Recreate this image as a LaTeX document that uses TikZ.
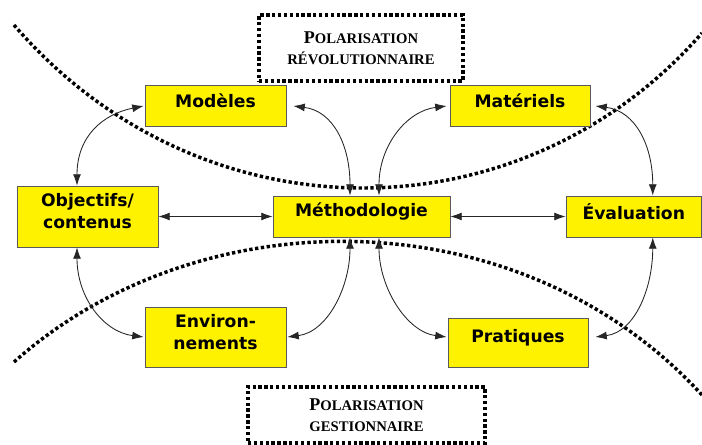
\documentclass[tikz,border=0pt]{standalone}
\usepackage{fontspec}
\usetikzlibrary{arrows.meta,calc}
\newfontfamily\boxfont{DejaVu Sans}
\newfontfamily\polfont{Liberation Serif}
\newcommand{\bigP}{{\fontsize{13.5}{16}\selectfont P}}

\tikzset{
  concept/.style={draw=black!65, line width=0.6pt, fill=yellow, inner sep=0pt},
  concepttext/.style={font=\boxfont\bfseries\fontsize{12.9}{16.5}\selectfont, align=center, inner sep=0pt, yshift=3.75pt},
  polebox/.style={draw, line width=2.6pt, dash pattern=on 2.5pt off 1.9pt, inner sep=0pt, align=center, font=\polfont\bfseries\fontsize{11}{16}\selectfont},
  poleline/.style={line width=2.6pt, dash pattern=on 2.5pt off 1.9pt},
  link/.style={{Latex[length=8.5pt,width=6pt]}-{Latex[length=8.5pt,width=6pt]}, line width=0.65pt, black!85},
}

\begin{document}
\begin{tikzpicture}[x=0.75pt,y=0.75pt,yscale=-1,xscale=1]
\useasboundingbox (0,0) rectangle (702,445);

%Dotted curves
\draw [poleline] (14,25) .. controls (200,241) and (520,241) .. (702,33) ;
\draw [poleline] (14,362) .. controls (200,196) and (520,196) .. (702,395) ;

% Pole boxes
\node [polebox, minimum width=153pt, minimum height=49.5pt] (rev) at (361,48) {\bigP OLARISATION\\RÉVOLUTIONNAIRE};
\node [polebox, minimum width=177.75pt, minimum height=42pt] (ges) at (366.5,415) {\bigP OLARISATION\\GESTIONNAIRE};

% Concept boxes
\node [concept, minimum width=105.75pt, minimum height=45.75pt, label={[concepttext]center:Objectifs/\\contenus}] (obj) at (87.5,216.5) {};
\node [concept, minimum width=105.75pt, minimum height=30.75pt, label={[concepttext]center:Modèles}] (mod) at (215.5,105.5) {};
\node [concept, minimum width=105pt, minimum height=30.75pt, label={[concepttext]center:Matériels}] (mat) at (520,105.5) {};
\node [concept, minimum width=132.75pt, minimum height=30.75pt, label={[concepttext]center:Méthodologie}] (meth) at (361.5,216.5) {};
\node [concept, minimum width=101.6pt, minimum height=30.75pt, label={[concepttext]center:Évaluation}] (eval) at (633.75,216.5) {};
\node [concept, minimum width=105.75pt, minimum height=45pt, label={[concepttext]center:Environ-\\nements}] (env) at (215.5,337) {};
\node [concept, minimum width=105pt, minimum height=36.75pt, label={[concepttext]center:Pratiques}] (prat) at (518,342.5) {};

%Straight links
\draw [link] (obj.east) -- (meth.west) ;
\draw [link] (meth.east) -- (eval.west) ;

%Curved links
\draw [link] ($(obj.north)+(-10.5,0)$) .. controls +(0,-50) and +(-40,8) .. ($(mod.west)+(-1,0.5)$) ;
\draw [link] ($(mod.east)+(7,0.5)$) .. controls +(40,5) and +(0,-50) .. ($(meth.north)+(-11.5,0)$) ;
\draw [link] ($(mat.west)+(-3,0.5)$) .. controls +(-40,5) and +(0,-50) .. ($(meth.north)+(17.5,0)$) ;
\draw [link] ($(mat.east)+(5,0.5)$) .. controls +(40,5) and +(0,-50) .. ($(eval.north)+(19,0)$) ;
\draw [link] ($(obj.south)+(-10.5,0)$) .. controls +(0,50) and +(-40,-5) .. ($(env.west)+(-1,0)$) ;
\draw [link] ($(meth.south)+(-11.5,0)$) .. controls +(0,50) and +(40,-5) .. ($(env.east)+(1,0)$) ;
\draw [link] ($(meth.south)+(17.5,0)$) .. controls +(0,50) and +(-40,-5) .. ($(prat.west)+(-1,-5.5)$) ;
\draw [link] ($(eval.south)+(19,0)$) .. controls +(0,50) and +(40,-5) .. ($(prat.east)+(7,-5.5)$) ;

\end{tikzpicture}
\end{document}
